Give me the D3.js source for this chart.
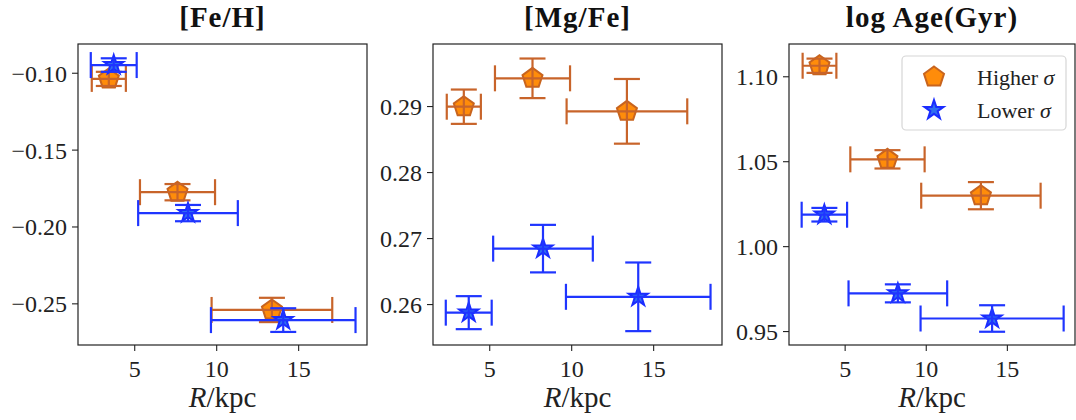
<!DOCTYPE html>
<html>
<head>
<meta charset="utf-8">
<script src="https://cdn.jsdelivr.net/npm/d3@7"></script>
<style>
  html, body { margin: 0; padding: 0; background: #fff; }
  svg { display: block; }
</style>
</head>
<body>
<svg id="chart" width="1076" height="420"></svg>
<script>
// Radial bins (kpc): centre and half width of each bin
const rHigh = [3.45, 7.64, 13.40];
const rHighErr = [1.04, 2.29, 3.68];
const rLow = [3.75, 8.28, 14.09];
const rLowErr = [1.40, 3.04, 4.41];

// [Fe/H]
const fehHigh = [-0.1040, -0.1777, -0.2543];
const fehHighErr = [0.0046, 0.0053, 0.0079];
const fehLow = [-0.0950, -0.1913, -0.2609];
const fehLowErr = [0.0044, 0.0053, 0.0077];

// [Mg/Fe]
const mgfeHigh = [0.2899, 0.2942, 0.2892];
const mgfeHighErr = [0.0026, 0.0030, 0.0049];
const mgfeLow = [0.2587, 0.2684, 0.2611];
const mgfeLowErr = [0.0025, 0.0036, 0.0052];

// log Age (Gyr)
const ageHigh = [1.1062, 1.0511, 1.0297];
const ageHighErr = [0.0042, 0.0054, 0.0080];
const ageLow = [1.0185, 0.9722, 0.9574];
const ageLowErr = [0.0040, 0.0053, 0.0078];

const xTicks = [5, 10, 15];
const fehTicks = [-0.10, -0.15, -0.20, -0.25];
const mgfeTicks = [0.26, 0.27, 0.28, 0.29];
const ageTicks = [0.95, 1.00, 1.05, 1.10];

const panels = [
  { title: "[Fe/H]", left: 78, right: 367, yDomain: [-0.2771, -0.0813], ticks: fehTicks,
    high: fehHigh, highErr: fehHighErr, low: fehLow, lowErr: fehLowErr, legend: false },
  { title: "[Mg/Fe]", left: 433, right: 722, yDomain: [0.2538, 0.2994], ticks: mgfeTicks,
    high: mgfeHigh, highErr: mgfeHighErr, low: mgfeLow, lowErr: mgfeLowErr, legend: false },
  { title: "log Age(Gyr)", left: 789, right: 1075, yDomain: [0.9418, 1.119], ticks: ageTicks,
    high: ageHigh, highErr: ageHighErr, low: ageLow, lowErr: ageLowErr, legend: true }
];

const plotTop = 44, plotBottom = 345;
const xDomain = [1.57, 19.2];
const serif = "'Liberation Serif', 'DejaVu Serif', serif";

const colors = {
  high: { fill: "#ff8c0a", edge: "#c8641e", err: "#c8642a" },
  low: { fill: "#2f6ff0", edge: "#1a2cff", err: "#1f35ff" }
};

// marker paths
function polyPath(pts) {
  return "M" + pts.map(p => p[0].toFixed(2) + "," + p[1].toFixed(2)).join("L") + "Z";
}
function pentagon(r) {
  const pts = d3.range(5).map(i => {
    const a = -Math.PI / 2 + i * 2 * Math.PI / 5;
    return [r * Math.cos(a), r * Math.sin(a)];
  });
  return polyPath(pts);
}
function star(r) {
  const ri = r * 0.381966;
  const pts = d3.range(10).map(i => {
    const a = -Math.PI / 2 + i * Math.PI / 5;
    const rr = i % 2 === 0 ? r : ri;
    return [rr * Math.cos(a), rr * Math.sin(a)];
  });
  return polyPath(pts);
}
const markers = { high: pentagon(10.5), low: star(10) };

const svg = d3.select("#chart");
const cap = 13;

panels.forEach(p => {
  const x = d3.scaleLinear().domain(xDomain).range([p.left, p.right]);
  const y = d3.scaleLinear().domain(p.yDomain).range([plotBottom, plotTop]);
  const g = svg.append("g");

  // axes
  const xAxis = d3.axisBottom(x).tickValues(xTicks).tickSize(6).tickPadding(5).tickFormat(d3.format("d"));
  const yAxis = d3.axisLeft(y).tickValues(p.ticks).tickSize(6).tickPadding(5).tickFormat(d3.format(".2f"));

  g.append("g").attr("transform", `translate(0,${plotBottom})`).call(xAxis)
    .call(a => a.select(".domain").remove())
    .call(a => a.selectAll("line").attr("stroke", "#222").attr("stroke-width", 1.1))
    .call(a => a.selectAll("text").style("font-family", serif).style("font-size", "24px")
      .attr("fill", "#222").attr("dy", "0.88em"));

  g.append("g").attr("transform", `translate(${p.left},0)`).call(yAxis)
    .call(a => a.select(".domain").remove())
    .call(a => a.selectAll("line").attr("stroke", "#222").attr("stroke-width", 1.1))
    .call(a => a.selectAll("text").style("font-family", serif).style("font-size", "24px")
      .attr("fill", "#222").attr("dy", "0.35em"));

  g.append("rect")
    .attr("x", p.left).attr("y", plotTop)
    .attr("width", p.right - p.left).attr("height", plotBottom - plotTop)
    .attr("fill", "none").attr("stroke", "#222").attr("stroke-width", 1.2);

  // title
  g.append("text")
    .attr("x", (p.left + p.right) / 2).attr("y", 27)
    .attr("text-anchor", "middle")
    .style("font-family", serif).style("font-size", "29px").style("font-weight", "bold")
    .attr("fill", "#111").attr("letter-spacing", 1)
    .text(p.title);

  // x label
  const xl = g.append("text")
    .attr("x", (p.left + p.right) / 2).attr("y", 407)
    .attr("text-anchor", "middle")
    .style("font-family", serif).style("font-size", "29px").attr("fill", "#222");
  xl.append("tspan").style("font-style", "italic").text("R");
  xl.append("tspan").text("/kpc");

  // series
  const series = [
    { key: "high", xs: rHigh, xe: rHighErr, ys: p.high, ye: p.highErr },
    { key: "low", xs: rLow, xe: rLowErr, ys: p.low, ye: p.lowErr }
  ];

  series.forEach(s => {
    const c = colors[s.key];
    const pts = s.xs.map((v, i) => ({ x: v, xe: s.xe[i], y: s.ys[i], ye: s.ye[i] }));

    g.append("g").selectAll("path")
      .data(pts).join("path")
      .attr("d", markers[s.key])
      .attr("transform", d => `translate(${x(d.x)},${y(d.y)})`)
      .attr("fill", c.fill).attr("stroke", c.edge).attr("stroke-width", 2)
      .attr("stroke-linejoin", "miter");

    const eg = g.append("g").attr("stroke", c.err).attr("stroke-width", 2.2).attr("fill", "none");
    pts.forEach(d => {
      const cx = x(d.x), cy = y(d.y);
      const x0 = x(d.x - d.xe), x1 = x(d.x + d.xe);
      const y0 = y(d.y - d.ye), y1 = y(d.y + d.ye);
      eg.append("line").attr("x1", x0).attr("x2", x1).attr("y1", cy).attr("y2", cy);
      eg.append("line").attr("x1", cx).attr("x2", cx).attr("y1", y0).attr("y2", y1);
      eg.append("line").attr("x1", x0).attr("x2", x0).attr("y1", cy - cap).attr("y2", cy + cap);
      eg.append("line").attr("x1", x1).attr("x2", x1).attr("y1", cy - cap).attr("y2", cy + cap);
      eg.append("line").attr("x1", cx - cap).attr("x2", cx + cap).attr("y1", y0).attr("y2", y0);
      eg.append("line").attr("x1", cx - cap).attr("x2", cx + cap).attr("y1", y1).attr("y2", y1);
    });
  });

  if (p.legend) {
    const lg = svg.append("g");
    lg.append("rect")
      .attr("x", 902).attr("y", 56).attr("width", 164).attr("height", 74)
      .attr("rx", 4).attr("fill", "#fff").attr("fill-opacity", 0.8)
      .attr("stroke", "#d6d6d6").attr("stroke-width", 1.2);
    const items = [
      { key: "high", label: "Higher ", y: 77 },
      { key: "low", label: "Lower ", y: 110 }
    ];
    items.forEach(it => {
      const c = colors[it.key];
      lg.append("path").attr("d", markers[it.key])
        .attr("transform", `translate(934,${it.y})`)
        .attr("fill", c.fill).attr("stroke", c.edge).attr("stroke-width", 2);
      const t = lg.append("text").attr("x", 977).attr("y", it.y).attr("dy", "0.35em")
        .style("font-family", serif).style("font-size", "22px").attr("fill", "#222");
      t.append("tspan").text(it.label);
      t.append("tspan").style("font-style", "italic").text("σ");
    });
  }
});
</script>
</body>
</html>
